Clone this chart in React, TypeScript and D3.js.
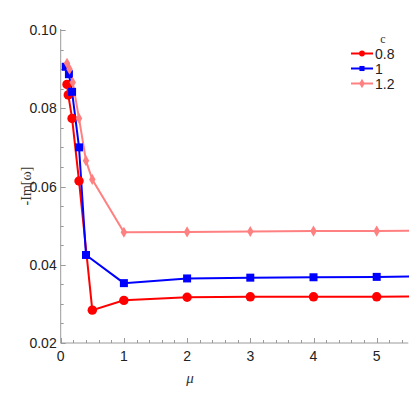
import React, { useEffect, useRef } from 'react';
import * as d3 from 'd3';

// c = 0.8
const redMu = [0.1, 0.12, 0.18, 0.29, 0.5, 1, 2, 3, 4, 5, 6];
const redIm = [0.0861, 0.0834, 0.0774, 0.0614, 0.0284, 0.0309, 0.0317, 0.0318, 0.0318, 0.0318, 0.0320];
// c = 1
const blueMu = [0.08, 0.13, 0.18, 0.29, 0.4, 1, 2, 3, 4, 5, 6];
const blueIm = [0.0906, 0.0887, 0.0842, 0.07, 0.0425, 0.0353, 0.0365, 0.0367, 0.0368, 0.0369, 0.0371];
// c = 1.2
const pinkMu = [0.1, 0.14, 0.19, 0.29, 0.4, 0.5, 1, 2, 3, 4, 5, 6];
const pinkIm = [0.0915, 0.09, 0.0866, 0.0774, 0.0666, 0.0618, 0.0483, 0.0484, 0.0485, 0.0486, 0.0486, 0.0488];

const seriesNames = ['0.8', '1', '1.2'];
const seriesColors = ['#ff0000', '#0000ff', '#ff8080'];
const seriesShapes = ['circle', 'square', 'diamond'];

const xTicks = [0, 1, 2, 3, 4, 5];
const yTicks = [0.02, 0.04, 0.06, 0.08, 0.1];

export default function App() {
    const ref = useRef<SVGSVGElement>(null);

    useEffect(() => {
        const svg = d3.select(ref.current);
        svg.selectAll('*').remove();

        const x = d3.scaleLinear().domain([0, 5.5]).range([60.7, 408.3]);
        const y = d3.scaleLinear().domain([0.02, 0.1]).range([343, 30]);
        const axisColor = '#9a9a9a';
        const font = '"Liberation Sans", Arial, sans-serif';

        svg.append('clipPath').attr('id', 'plotclip')
            .append('rect').attr('x', 55).attr('y', 20).attr('width', 354).attr('height', 330);

        // axes
        const gy = svg.append('g');
        gy.append('line').attr('x1', x(0)).attr('x2', x(0)).attr('y1', y(0.1) - 1).attr('y2', y(0.02))
            .attr('stroke', axisColor);
        d3.range(0.02, 0.1001, 0.005).forEach((v, i) => {
            const major = i % 4 === 0;
            gy.append('line').attr('x1', x(0)).attr('x2', x(0) + (major ? 5 : 3))
                .attr('y1', Math.round(y(v)) + 0.5).attr('y2', Math.round(y(v)) + 0.5).attr('stroke', axisColor);
        });
        yTicks.forEach(v => {
            gy.append('text').attr('x', x(0) - 4).attr('y', y(v) + 5).attr('text-anchor', 'end')
                .attr('font-family', font).attr('font-size', 14).attr('fill', '#222').text(d3.format('.2f')(v));
        });

        const gx = svg.append('g');
        gx.append('line').attr('x1', x(0)).attr('x2', x(5.5)).attr('y1', y(0.02)).attr('y2', y(0.02))
            .attr('stroke', axisColor);
        d3.range(0, 5.501, 0.2).forEach((v, i) => {
            const major = i % 5 === 0;
            gx.append('line').attr('x1', Math.round(x(v)) + 0.5).attr('x2', Math.round(x(v)) + 0.5)
                .attr('y1', y(0.02)).attr('y2', y(0.02) - (major ? 5 : 3)).attr('stroke', axisColor);
        });
        xTicks.forEach(v => {
            gx.append('text').attr('x', x(v)).attr('y', y(0.02) + 18).attr('text-anchor', 'middle')
                .attr('font-family', font).attr('font-size', 14).attr('fill', '#222').text(v);
        });

        svg.append('text').attr('x', 190).attr('y', 383).attr('text-anchor', 'middle')
            .attr('font-family', '"Liberation Serif", serif').attr('font-style', 'italic')
            .attr('font-size', 15).attr('fill', '#333').text('μ');
        svg.append('text').attr('transform', 'translate(31,186) rotate(-90)').attr('text-anchor', 'middle')
            .attr('font-family', '"Liberation Serif", serif').attr('font-size', 14).attr('fill', '#333')
            .text('-Im[ω]');

        const symbol = (shape: string, size: number) => {
            const t = shape === 'circle' ? d3.symbolCircle : shape === 'square' ? d3.symbolSquare : d3.symbolDiamond;
            return d3.symbol().type(t).size(size)();
        };
        const sizes = [70, 64, 36];

        const all = [
            redMu.map((m, i) => [m, redIm[i]]),
            blueMu.map((m, i) => [m, blueIm[i]]),
            pinkMu.map((m, i) => [m, pinkIm[i]]),
        ];
        const line = d3.line<number[]>().x(d => x(d[0])).y(d => y(d[1]));

        const plot = svg.append('g').attr('clip-path', 'url(#plotclip)');
        [0, 1, 2].forEach(s => {
            plot.append('path').attr('d', line(all[s])).attr('fill', 'none')
                .attr('stroke', seriesColors[s]).attr('stroke-width', 2);
        });
        [0, 1, 2].forEach(s => {
            plot.append('g').selectAll('path').data(all[s]).join('path')
                .attr('transform', d => `translate(${x(d[0])},${y(d[1])})`)
                .attr('d', symbol(seriesShapes[s], sizes[s])).attr('fill', seriesColors[s]);
        });

        // legend
        const lg = svg.append('g');
        lg.append('text').attr('x', 383).attr('y', 43).attr('text-anchor', 'middle')
            .attr('font-family', '"Liberation Serif", serif').attr('font-size', 12).attr('fill', '#333').text('c');
        seriesNames.forEach((name, i) => {
            const ly = 53.5 + i * 15;
            lg.append('line').attr('x1', 351).attr('x2', 373).attr('y1', ly).attr('y2', ly)
                .attr('stroke', seriesColors[i]).attr('stroke-width', 2);
            lg.append('path').attr('transform', `translate(362,${ly})`)
                .attr('d', symbol(seriesShapes[i], 26)).attr('fill', seriesColors[i]);
            lg.append('text').attr('x', 375).attr('y', ly + 5).attr('font-family', font)
                .attr('font-size', 14).attr('fill', '#222').text(name);
        });
    }, []);

    return (
        <svg ref={ref} width={409} height={393}
            style={{ position: 'absolute', left: 0, top: 0, background: '#fff' }} />
    );
}
